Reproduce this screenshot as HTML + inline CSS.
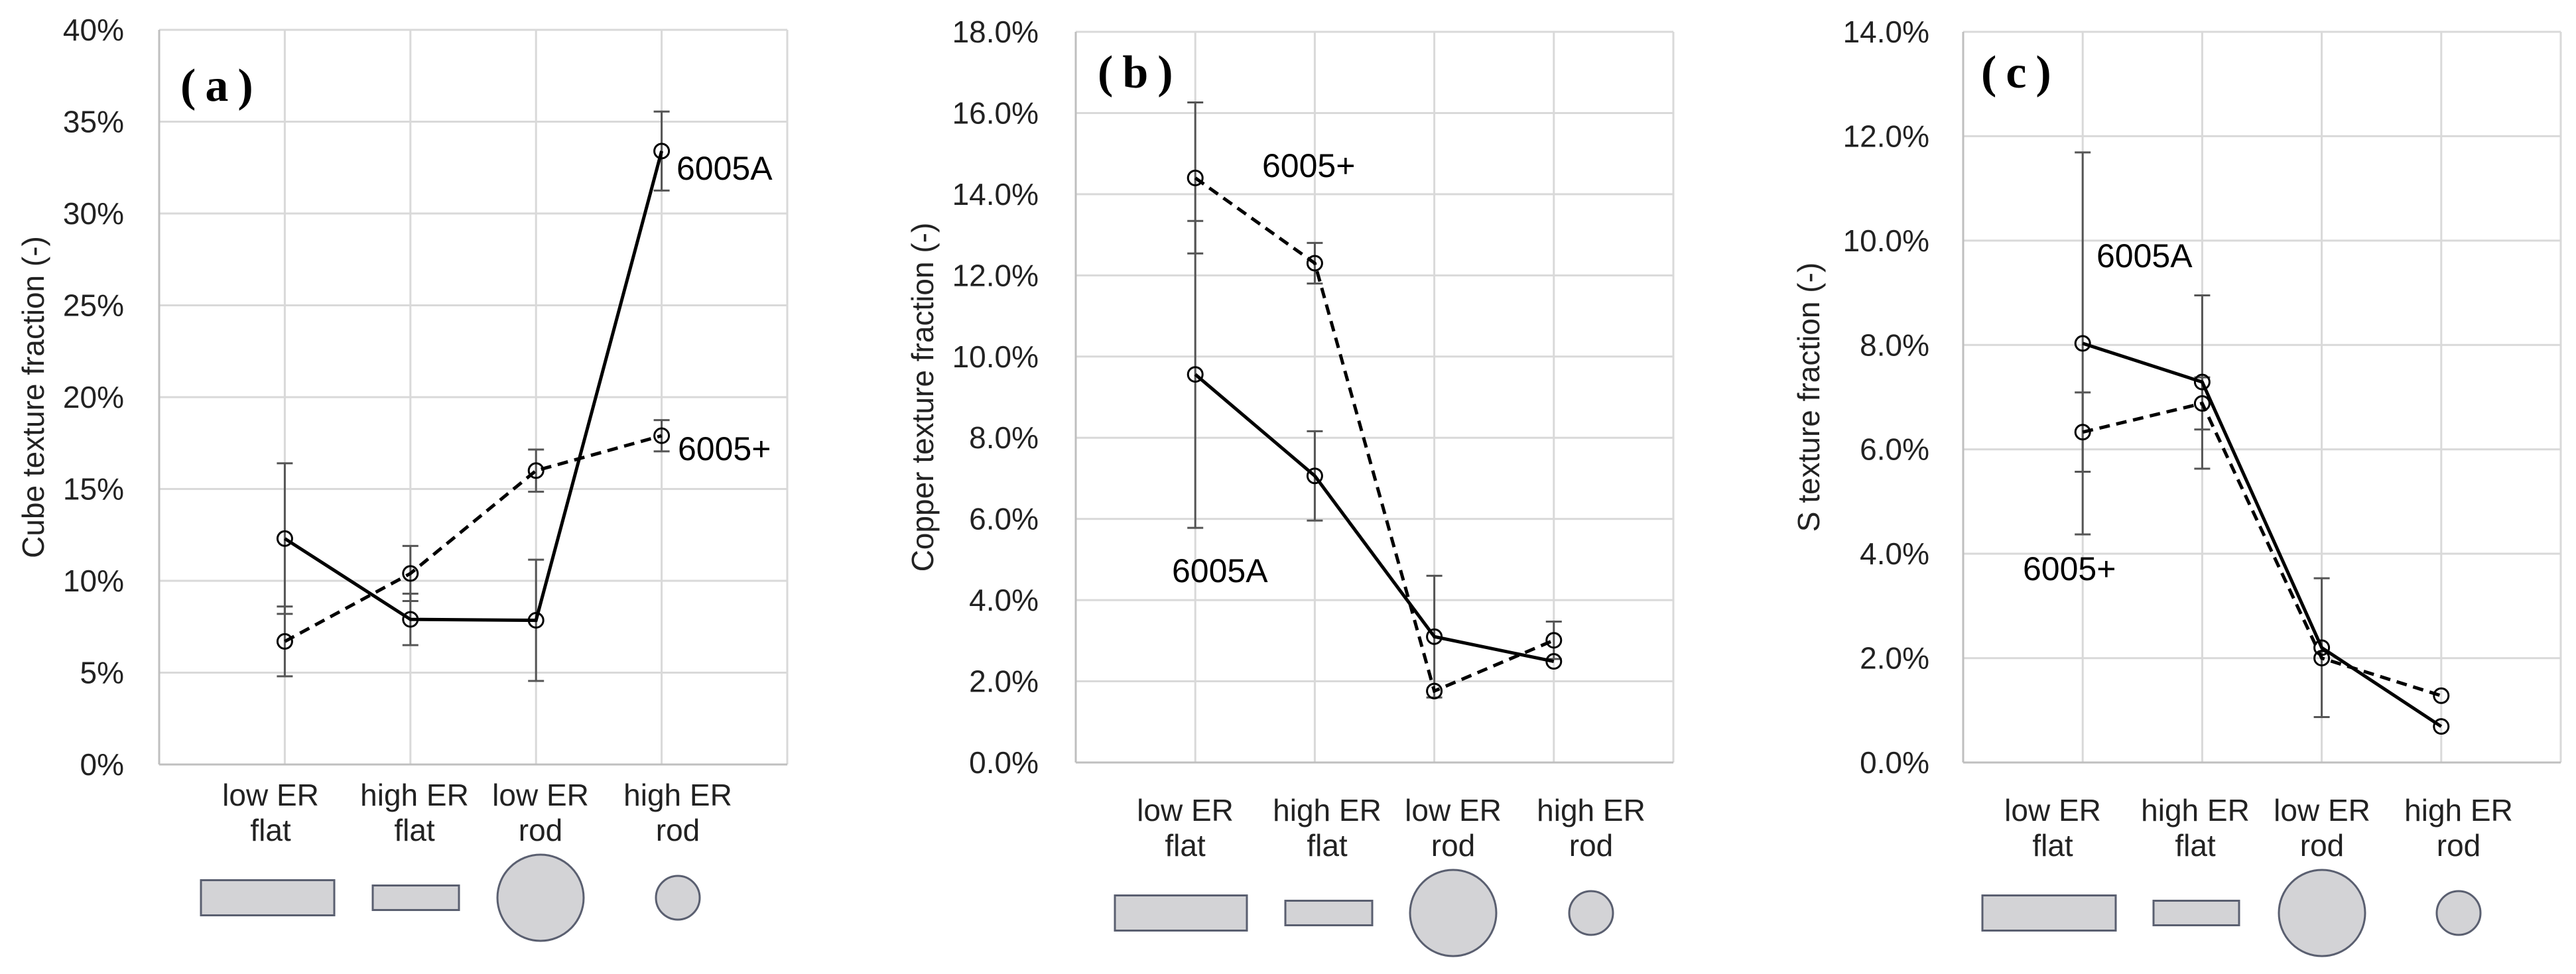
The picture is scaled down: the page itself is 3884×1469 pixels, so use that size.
<!DOCTYPE html>
<html><head><meta charset="utf-8">
<style>
html,body{margin:0;padding:0;background:#fff;}
svg{display:block;font-family:"Liberation Sans",sans-serif;}
</style></head>
<body>
<svg id="fig" width="3884" height="1469" viewBox="0 0 3884 1469" xmlns="http://www.w3.org/2000/svg"></svg>
<script>
const categories = ["low ER|flat","high ER|flat","low ER|rod","high ER|rod"];
// panel a: cube
const aSolid = [12.3, 7.9, 7.85, 33.4];
const aSolidErr = [4.1, 1.4, 3.3, 2.15];
const aDash = [6.7, 10.4, 16.0, 17.9];
const aDashErr = [1.9, 1.5, 1.15, 0.85];
const aTicks = [0,5,10,15,20,25,30,35,40];
// panel b: copper
const bSolid = [9.56, 7.06, 3.10, 2.49];
const bSolidErr = [3.78, 1.1, 1.5, 0];
const bDash = [14.4, 12.3, 1.76, 3.01];
const bDashErr = [1.86, 0.5, 0, 0.46];
const bTicks = [0,2,4,6,8,10,12,14,16,18];
// panel c: S
const cSolid = [8.03, 7.29, 2.20, 0.69];
const cSolidErr = [3.66, 1.66, 1.33, 0];
const cDash = [6.33, 6.88, 2.0, 1.28];
const cDashErr = [0.76, 0.5, 0, 0];
const cTicks = [0,2,4,6,8,10,12,14];

const NS="http://www.w3.org/2000/svg";
const svg=document.getElementById('fig');
function mk(tag,attrs,parent,text){const e=document.createElementNS(NS,tag);for(const k in attrs)e.setAttribute(k,attrs[k]);if(text!==undefined)e.textContent=text;(parent||svg).appendChild(e);return e;}

const panels=[
 {id:'a',left:240,right:1187,top:45,bottom:1153,max:40,ticks:aTicks,fmt:v=>v+'%',tickRight:187,title:'Cube texture fraction (-)',titleX:50,
  s:aSolid,se:aSolidErr,d:aDash,de:aDashErr,lab:'(a)',labX:272,labY:152,
  notes:[['6005A',1020,254],['6005+',1022,677]],
  catX:[408,625,815,1022],dy:0,rects:[[303,504,53],[562,692,37]],circ:[[815,65],[1022,33]]},
 {id:'b',left:1622,right:2523,top:48,bottom:1150,max:18,ticks:bTicks,fmt:v=>v.toFixed(1)+'%',tickRight:1566,title:'Copper texture fraction (-)',titleX:1391,
  s:bSolid,se:bSolidErr,d:bDash,de:bDashErr,lab:'(b)',labX:1655,labY:132,
  notes:[['6005+',1903,250],['6005A',1767,861]],
  catX:[1787,2001,2191,2399],dy:23,rects:[[1681,1880,53],[1938,2069,37]],circ:[[2191,65],[2399,33]]},
 {id:'c',left:2960,right:3861,top:48,bottom:1150,max:14,ticks:cTicks,fmt:v=>v.toFixed(1)+'%',tickRight:2909,title:'S texture fraction (-)',titleX:2727,
  s:cSolid,se:cSolidErr,d:cDash,de:cDashErr,lab:'(c)',labX:2987,labY:132,
  notes:[['6005A',3161,386],['6005+',3050,858]],
  catX:[3095,3310,3501,3707],dy:23,rects:[[2989,3190,53],[3247,3376,37]],circ:[[3501,65],[3707,33]]}
];

panels.forEach(p=>{
  const g=mk('g',{});
  
  
  const step=(p.right-p.left)/5;
  const xs=i=>p.left+step*(i+1);
  const ys=v=>p.bottom-(v/p.max)*(p.bottom-p.top);
  p.ticks.forEach(t=>{
    const l=mk('line',{x1:p.left,x2:p.right,y1:ys(t),y2:ys(t),stroke:'#d9d9d9','stroke-width':3},g);
    
    
    const tx=mk('text',{x:p.tickRight,y:ys(t)+16,'text-anchor':'end','font-size':46,fill:'#222'},g,p.fmt(t));
    
    
  });
  for(let i=0;i<=5;i++){
    const x=p.left+step*i;
    const l=mk('line',{x1:x,x2:x,y1:p.top,y2:p.bottom,stroke:'#d9d9d9','stroke-width':3},g);
    
    
  }
  const ax=mk('line',{x1:p.left,x2:p.left,y1:p.top,y2:p.bottom,stroke:'#bfbfbf','stroke-width':3},g);
  
  
  const bx=mk('line',{x1:p.left,x2:p.right,y1:p.bottom,y2:p.bottom,stroke:'#bfbfbf','stroke-width':3},g);
  
  
  const cy=(p.top+p.bottom)/2;
  const tt=mk('text',{x:p.titleX,y:cy,'text-anchor':'middle','font-size':46,fill:'#222',transform:`rotate(-90 ${p.titleX} ${cy})`,dy:16},g,p.title);
  
  
  const pl=mk('text',{x:p.labX,y:p.labY,'font-size':70,'font-weight':'bold','font-family':'Liberation Serif, serif',fill:'#000'},g,p.lab.split('').join('\u2009'));
  
  
  function errs(vals,er,name){
    vals.forEach((v,i)=>{
      if(!er[i])return;
      const x=xs(i),y1=ys(v+er[i]),y2=ys(v-er[i]);
      const eg=mk('g',{stroke:'#555','stroke-width':3},g);
      
      
      mk('line',{x1:x,x2:x,y1:y1,y2:y2},eg);
      mk('line',{x1:x-12,x2:x+12,y1:y1,y2:y1},eg);
      mk('line',{x1:x-12,x2:x+12,y1:y2,y2:y2},eg);
    });
  }
  errs(p.s,p.se,'6005a');
  errs(p.d,p.de,'6005plus');
  function series(vals,dash,name){
    const pts=vals.map((v,i)=>xs(i)+','+ys(v)).join(' ');
    const pl=mk('polyline',{points:pts,fill:'none',stroke:'#000','stroke-width':5,'stroke-dasharray':dash?'16 10':'none'},g);
    
    
    vals.forEach((v,i)=>{
      const c=mk('circle',{cx:xs(i),cy:ys(v),r:11,fill:'none',stroke:'#000','stroke-width':3},g);
      
      
    });
  }
  series(p.d,true,'6005plus');
  series(p.s,false,'6005a');
  p.notes.forEach(n=>{
    const t=mk('text',{x:n[1],y:n[2]+17,'font-size':50,fill:'#000'},g,n[0]);
    
    
  });
  categories.forEach((c,i)=>{
    const parts=c.split('|');
    const t=mk('text',{x:p.catX[i],y:1215+p.dy,'text-anchor':'middle','font-size':46,fill:'#222'},g,parts[0]);
    
    
    const t2=mk('text',{x:p.catX[i],y:1268+p.dy,'text-anchor':'middle','font-size':46,fill:'#222'},g,parts[1]);
    
    
  });
  const sc=1354+p.dy;
  p.rects.forEach(r=>{
    const e=mk('rect',{x:r[0],y:sc-r[2]/2,width:r[1]-r[0],height:r[2],fill:'#d3d3d6',stroke:'#5a5f70','stroke-width':3},g);
    
    
  });
  p.circ.forEach(c=>{
    const e=mk('circle',{cx:c[0],cy:sc,r:c[1],fill:'#d3d3d6',stroke:'#5a5f70','stroke-width':3},g);
    
    
  });
});
</script>
</body></html>
